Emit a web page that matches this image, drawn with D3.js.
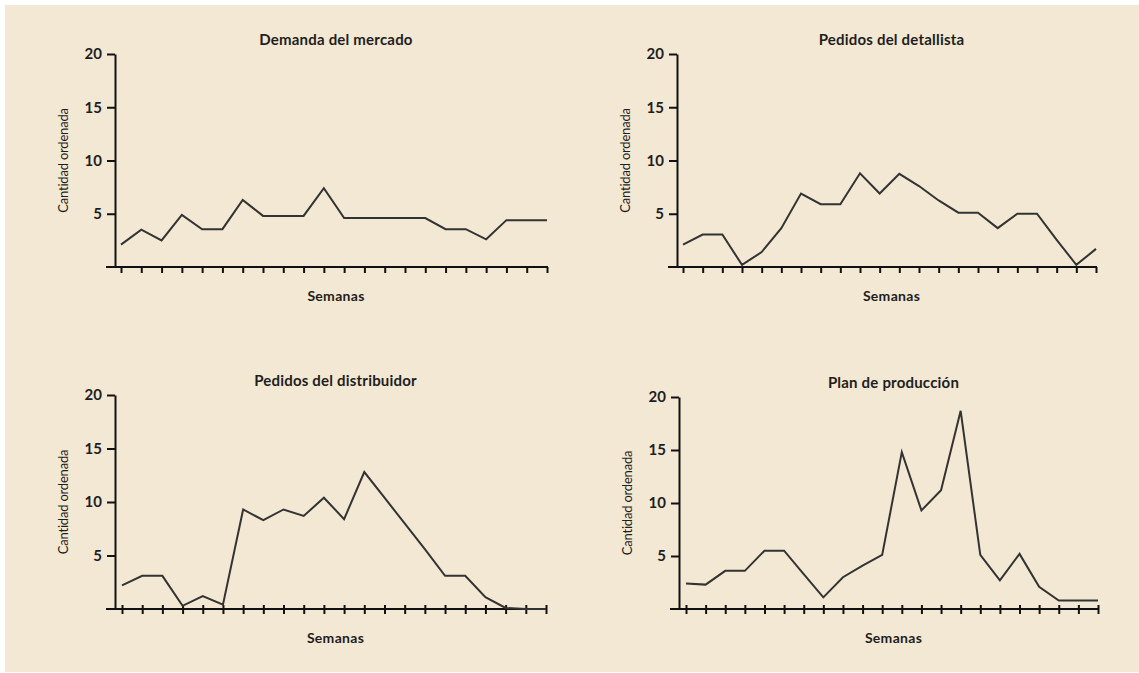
<!DOCTYPE html>
<html>
<head>
<meta charset="utf-8">
<script src="https://cdn.jsdelivr.net/npm/d3@7"></script>
<style>
  html, body { margin: 0; padding: 0; background: #ffffff; }
  svg { display: block; }
  text { font-family: Lato, "Open Sans", sans-serif; fill: #1e1e1e; }
</style>
</head>
<body>
<svg id="chart" width="1139" height="673"></svg>
<script>
// ---- data ----
const weeks = d3.range(1, 23);
const yTicks = [5, 10, 15, 20];
const titles = ["Demanda del mercado", "Pedidos del detallista", "Pedidos del distribuidor", "Plan de producción"];
const xLabel = "Semanas";
const yLabel = "Cantidad ordenada";

const demandaMercado = [2.1, 3.5, 2.5, 4.9, 3.55, 3.55, 6.3, 4.8, 4.8, 4.8, 7.4, 4.6, 4.6, 4.6, 4.6, 4.6, 3.55, 3.55, 2.6, 4.4, 4.4, 4.4];
const pedidosDetallista = [2.1, 3.05, 3.05, 0.2, 1.4, 3.65, 6.9, 5.9, 5.9, 8.8, 6.9, 8.75, 7.6, 6.25, 5.1, 5.1, 3.65, 5.0, 5.0, 2.55, 0.2, 1.7];
const pedidosDistribuidor = [2.2, 3.1, 3.1, 0.3, 1.2, 0.4, 9.3, 8.3, 9.3, 8.7, 10.4, 8.4, 12.8, 10.4, 8.0, 5.6, 3.1, 3.1, 1.1, 0.1, 0, 0];
const planProduccion = [2.4, 2.3, 3.6, 3.6, 5.5, 5.5, 3.3, 1.1, 3.0, 4.1, 5.1, 14.8, 9.3, 11.2, 18.7, 5.1, 2.7, 5.2, 2.1, 0.8, 0.8, 0.8];

const series = [demandaMercado, pedidosDetallista, pedidosDistribuidor, planProduccion];

// ---- layout ----
const svg = d3.select("#chart");
svg.append("rect").attr("x", 5).attr("y", 5).attr("width", 1134).attr("height", 667).attr("fill", "#f3e8d3");

const panels = [
  { axisX: 115, top: 54,  bottom: 267, xFirst: 121, xLast: 547, cross: false },
  { axisX: 677, top: 54,  bottom: 267, xFirst: 683, xLast: 1096, cross: false },
  { axisX: 115, top: 395, bottom: 609, xFirst: 122, xLast: 546, cross: true },
  { axisX: 679, top: 397, bottom: 609, xFirst: 686, xLast: 1098, cross: true }
];

panels.forEach((p, i) => {
  const g = svg.append("g");
  const x = d3.scaleLinear().domain([1, 22]).range([p.xFirst, p.xLast]);
  const y = d3.scaleLinear().domain([0, 20]).range([p.bottom, p.top]);
  const cx = (p.axisX + p.xLast) / 2 + 5;

  // y axis
  const ya = g.append("g")
    .attr("transform", `translate(${p.axisX},0)`)
    .call(d3.axisLeft(y).tickValues(yTicks).tickSizeInner(8).tickSizeOuter(0).tickPadding(5));
  ya.select(".domain").attr("stroke", "#111").attr("stroke-width", 2);
  ya.selectAll(".tick line").attr("stroke", "#111").attr("stroke-width", 2);
  ya.selectAll(".tick text")
    .style("font-family", "Lato, sans-serif")
    .style("font-size", "15px")
    .style("font-weight", "700")
    .attr("fill", "#1e1e1e");

  // x axis
  const xa = g.append("g")
    .attr("transform", `translate(0,${p.bottom})`)
    .call(d3.axisBottom(x).tickValues(weeks).tickFormat("").tickSizeOuter(0).tickSizeInner(5));
  xa.select(".domain").remove();
  xa.append("line")
    .attr("x1", p.axisX - 9).attr("x2", p.xLast + 1)
    .attr("y1", 0).attr("y2", 0)
    .attr("stroke", "#111").attr("stroke-width", 2);
  xa.selectAll(".tick line")
    .attr("stroke", "#111").attr("stroke-width", 2)
    .attr("y1", p.cross ? -4 : 0).attr("y2", p.cross ? 5 : 6);

  // line
  const line = d3.line().x((d, k) => x(weeks[k])).y(d => y(d));
  g.append("path")
    .datum(series[i])
    .attr("d", line)
    .attr("fill", "none")
    .attr("stroke", "#333")
    .attr("stroke-width", 2)
    .attr("stroke-linejoin", "miter");

  // title
  g.append("text")
    .attr("x", cx).attr("y", p.top - 9)
    .attr("text-anchor", "middle")
    .style("font-size", "15px")
    .style("font-weight", "700")
    .style("letter-spacing", "0.2px")
    .text(titles[i]);

  // x label
  g.append("text")
    .attr("x", cx).attr("y", p.bottom + 34)
    .attr("text-anchor", "middle")
    .style("font-size", "14px")
    .style("font-weight", "700")
    .style("letter-spacing", "0.3px")
    .text(xLabel);

  // y label
  g.append("text")
    .attr("transform", `translate(${p.axisX - 52},${(p.top + p.bottom) / 2}) rotate(-90)`)
    .attr("text-anchor", "middle")
    .attr("dy", "0.35em")
    .style("font-size", "13px")
    .style("letter-spacing", "-0.2px")
    .text(yLabel);
});
</script>
</body>
</html>
